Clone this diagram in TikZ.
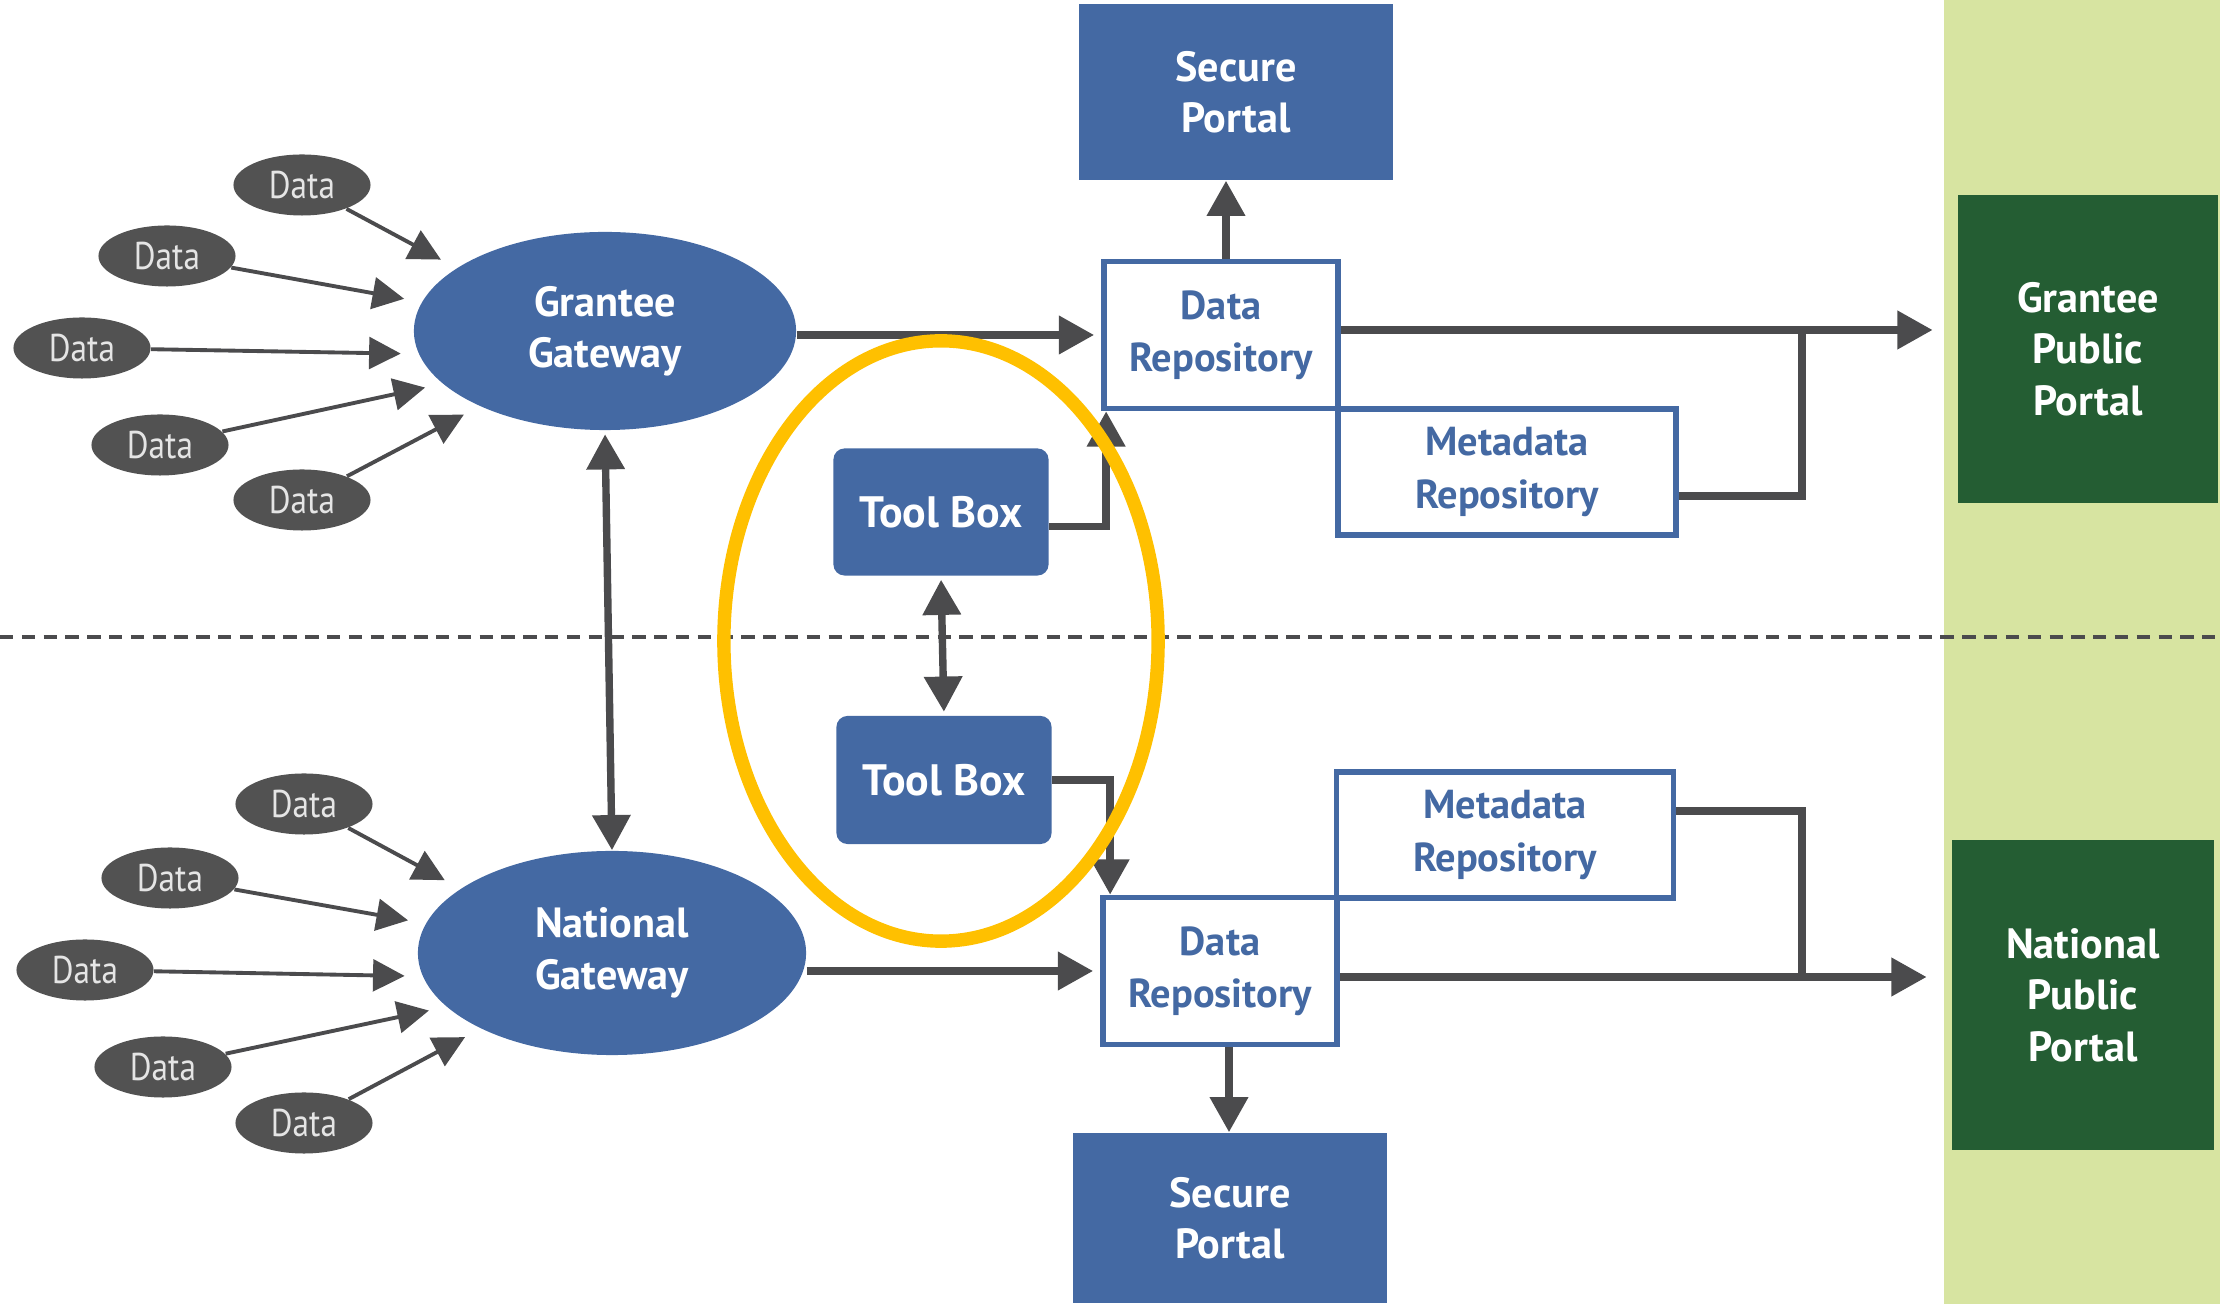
\documentclass[tikz,border=0pt]{standalone}
\usepackage{fontspec}
\setmainfont{PT Sans}
\newfontfamily\narrowsans[FakeStretch=0.86]{PT Sans}
\usetikzlibrary{arrows.meta,shapes.geometric}

\definecolor{portalblue}{HTML}{4469A3}
\definecolor{publicgreen}{HTML}{245D33}
\definecolor{stripgreen}{HTML}{D7E4A1}
\definecolor{linegray}{HTML}{4B4B4D}
\definecolor{bubblegray}{HTML}{525252}
\definecolor{ringyellow}{HTML}{FFC000}

\tikzset{
  conn/.style={draw=linegray, line width=2.1pt, >={Triangle[width=10.5pt,length=10pt]}},
  feed/.style={draw=linegray, line width=1.1pt, >={Triangle[width=9pt,length=9pt]}, shorten >=5pt},
  labelfont/.style={font=\bfseries\fontsize{12}{14.6}\selectfont},
  databubble/.style={ellipse, fill=bubblegray, text=white!90!black, inner sep=0pt,
    minimum width=1.37cm, minimum height=0.61cm, font=\narrowsans\fontsize{11}{12}\selectfont},
  gateway/.style={ellipse, fill=portalblue, text=white, align=center, inner sep=0pt, labelfont},
  portal/.style={rectangle, fill=portalblue, text=white, align=center, inner sep=0pt,
    minimum width=3.13cm, labelfont},
  repo/.style={rectangle, draw=portalblue, line width=1.6pt, fill=white, text=portalblue,
    align=center, inner sep=0pt, font=\bfseries\fontsize{11.5}{14.8}\selectfont},
  toolbox/.style={rectangle, rounded corners=0.11cm, fill=portalblue, text=white, inner sep=0pt,
    minimum width=2.15cm, minimum height=1.27cm, font=\bfseries\fontsize{12.5}{14}\selectfont},
  public/.style={rectangle, fill=publicgreen, text=white, align=center, inner sep=0pt,
    minimum width=2.6cm, minimum height=3.08cm, labelfont},
  ring/.style={ellipse, draw=ringyellow, line width=3.8pt, minimum width=4.34cm, minimum height=6cm}
}

\begin{document}
\begin{tikzpicture}[x=0.01cm, y=-0.01cm]
    \useasboundingbox (0,0) rectangle (2220,1304);

    % Public side strip and the level divider
    \fill[stripgreen] (1944,0) rectangle (2220,1304);
    \draw[linegray, line width=1.2pt, dash pattern=on 3.8pt off 2.4pt] (0,637) -- (2220,637);

    % Gateways
    \node[gateway, minimum width=3.82cm, minimum height=1.98cm] (gg) at (605,331) {Grantee\\Gateway};
    \node[gateway, minimum width=3.88cm, minimum height=2.04cm] (gn) at (612,953) {National\\Gateway};

    % Repositories and portals, grantee level
    \node[portal, minimum height=1.76cm] (secTop) at (1236,92) {Secure\\Portal};
    \node[repo, minimum width=2.34cm, minimum height=1.47cm] (repTop) at (1221,335) {Data\\Repository};
    \node[repo, minimum width=3.38cm, minimum height=1.26cm] (metaTop) at (1507,472) {Metadata\\Repository};
    \node[public] (gpp) at (2088,349) {Grantee\\Public\\Portal};

    % Repositories and portals, national level
    \node[repo, minimum width=3.37cm, minimum height=1.26cm] (metaBot) at (1505,835) {Metadata\\Repository};
    \node[repo, minimum width=2.34cm, minimum height=1.47cm] (repBot) at (1220,971) {Data\\Repository};
    \node[portal, minimum height=1.70cm] (secBot) at (1230,1218) {Secure\\Portal};
    \node[public, minimum width=2.62cm, minimum height=3.1cm] (npp) at (2083,995) {National\\Public\\Portal};

    % Tool boxes
    \node[toolbox] (toolTop) at (941,512) {Tool Box};
    \node[toolbox, minimum height=1.28cm] (toolBot) at (944,780) {Tool Box};

    % Data sources feeding the gateways
    \foreach \i/\pos/\ang in {1/{302,185}/157, 2/{167,256}/171, 3/{82,348}/187, 4/{160,445}/198, 5/{302,500}/211}{
        \node[databubble] (dg\i) at (\pos) {Data};
        \draw[feed,->] (dg\i) -- (gg.\ang);
    }
    \foreach \i/\pos/\ang in {1/{304,804}/157, 2/{170,878}/171, 3/{85,970}/187, 4/{163,1067}/198, 5/{304,1123}/210}{
        \node[databubble] (dn\i) at (\pos) {Data};
        \draw[feed,->] (dn\i) -- (gn.\ang);
    }

    % Main flow, grantee level
    \draw[conn,->, shorten >=2pt] (gg.east |- repTop.west) -- (repTop.west);
    \draw[conn,->] ([xshift=0.05cm]repTop.north) -- ([xshift=0.05cm]repTop.north |- secTop.south);
    \coordinate (jTop) at (1802,330);
    \draw[conn,->, shorten >=7pt] ([yshift=0.05cm]repTop.east) -- ([yshift=0.05cm]repTop.east -| gpp.west);
    \draw[conn] ([yshift=-0.24cm]metaTop.east) -| (jTop);
    \draw[conn,->] ([yshift=-0.145cm]toolTop.east) -| ([xshift=0.05cm]repTop.south west);

    % Main flow, national level
    \draw[conn,->, shorten >=2pt] (gn.east |- repBot.west) -- (repBot.west);
    \draw[conn,->] ([xshift=0.09cm]repBot.south) -- ([xshift=0.09cm]repBot.south |- secBot.north);
    \coordinate (jBot) at (1802,977);
    \draw[conn,->, shorten >=7pt] ([yshift=-0.06cm]repBot.east) -- ([yshift=-0.06cm]repBot.east -| npp.west);
    \draw[conn] ([yshift=0.24cm]metaBot.east) -| (jBot);
    \draw[conn,->] (toolBot.east) -| ([xshift=0.1cm]repBot.north west);

    % Links between the levels
    \draw[conn,<->, shorten <=1pt] (gg.south) -- (gn.north);
    \draw[conn,<->, shorten <=1pt, shorten >=1pt] (toolTop.south) -- (toolBot.north);

    % Highlight round the tool boxes
    \node[ring] (focus) at (941,641) {};
\end{tikzpicture}
\end{document}
